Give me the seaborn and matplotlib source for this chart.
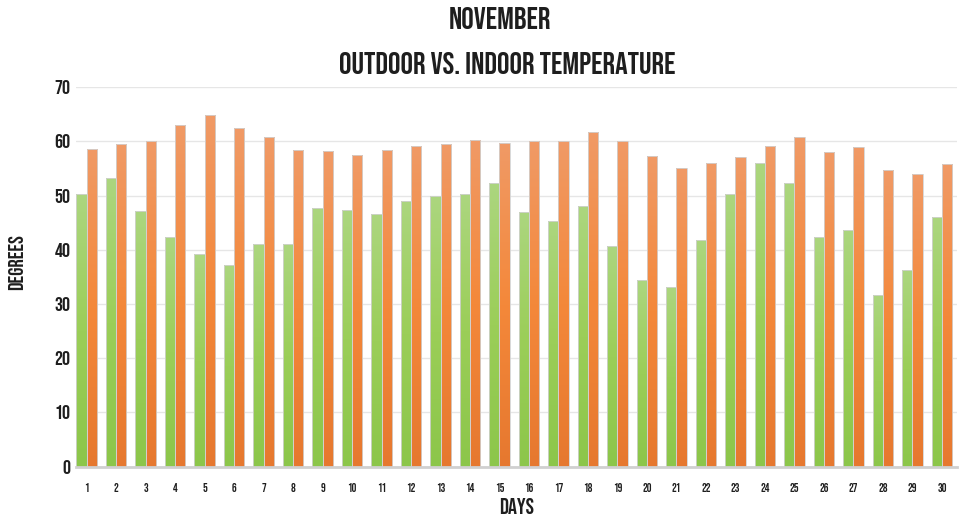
import numpy as np
import pandas as pd
import matplotlib
matplotlib.use("Agg")
import matplotlib.pyplot as plt
from matplotlib.colors import LinearSegmentedColormap
import seaborn as sns

# daily temperatures (degrees)
days = list(range(1, 31))
outdoor = [50.3, 53.2, 47.2, 42.4, 39.2, 37.2, 41.1, 41.0, 47.8, 47.4,
           46.6, 49.1, 50.0, 50.3, 52.3, 47.0, 45.4, 48.1, 40.7, 34.5,
           33.2, 41.8, 50.3, 56.0, 52.4, 42.4, 43.7, 31.7, 36.3, 46.0]
indoor = [58.6, 59.6, 60.1, 63.0, 64.9, 62.5, 60.9, 58.5, 58.3, 57.6,
          58.5, 59.2, 59.6, 60.3, 59.8, 60.0, 60.0, 61.7, 60.0, 57.4,
          55.1, 56.1, 57.2, 59.1, 60.8, 58.0, 59.0, 54.8, 54.0, 55.8]
series = ["Outdoor", "Indoor"]
yticks = [0, 10, 20, 30, 40, 50, 60, 70]

df = pd.DataFrame({
    "day": days * 2,
    "temp": outdoor + indoor,
    "where": [series[0]] * len(days) + [series[1]] * len(days),
})

sns.set_theme(style="white")
plt.rcParams["font.family"] = ["Bebas Neue", "DejaVu Sans"]
ink = "#1e1e1e"

fig = plt.figure(figsize=(9.62, 5.19), dpi=100)
ax = fig.add_axes([0.079, 0.1008, 0.916, 0.731])

sns.barplot(data=df, x="day", y="temp", hue="where", hue_order=series,
            palette=["#9bce58", "#f4883a"], width=0.7, gap=0,
            edgecolor="#d2d2d2", linewidth=0.6, legend=False, ax=ax)

# vertical gradient fill, lighter at the top
cmaps = [LinearSegmentedColormap.from_list("g", ["#8cc64a", "#9bce58", "#acd67f"]),
         LinearSegmentedColormap.from_list("o", ["#e6782f", "#f4883a", "#f09a66"])]
ramp = np.linspace(0, 1, 256).reshape(-1, 1)
for cont, cm in zip(ax.containers, cmaps):
    for bar in cont:
        x0, w, h = bar.get_x(), bar.get_width(), bar.get_height()
        im = ax.imshow(ramp, cmap=cm, extent=[x0, x0 + w, 0, h], origin="lower",
                       aspect="auto", interpolation="bilinear", zorder=0.9)
        im.set_clip_path(bar)
        bar.set_facecolor("none")

ax.set_xlim(-0.36, 29.52)
ax.set_ylim(0, 70)
ax.set_yticks(yticks)
ax.set_axisbelow(True)
ax.yaxis.grid(True, color="#e6e6e6", lw=1)
for s in ["top", "right", "left"]:
    ax.spines[s].set_visible(False)
ax.spines["bottom"].set_color("#d0d0d0")
ax.spines["bottom"].set_linewidth(2)
ax.tick_params(axis="both", length=0)
ax.tick_params(axis="x", pad=12, labelsize=8.5, labelcolor=ink)
ax.tick_params(axis="y", pad=4, labelsize=14.5, labelcolor=ink)

ax.set_xlabel("DAYS", fontsize=16, color=ink, labelpad=4)
ax.set_ylabel("")
fig.text(16 / 962, 1 - 262 / 519, "DEGREES", rotation=90, ha="center", va="center",
         fontsize=15, color=ink)

fig.text(500 / 962, 1 - 18 / 519, "NOVEMBER", ha="center", va="center",
         fontsize=22.5, color=ink)
fig.text(507 / 962, 1 - 63 / 519, "OUTDOOR VS. INDOOR TEMPERATURE", ha="center",
         va="center", fontsize=22.5, color=ink)

fig.savefig("out.png", dpi=100)
